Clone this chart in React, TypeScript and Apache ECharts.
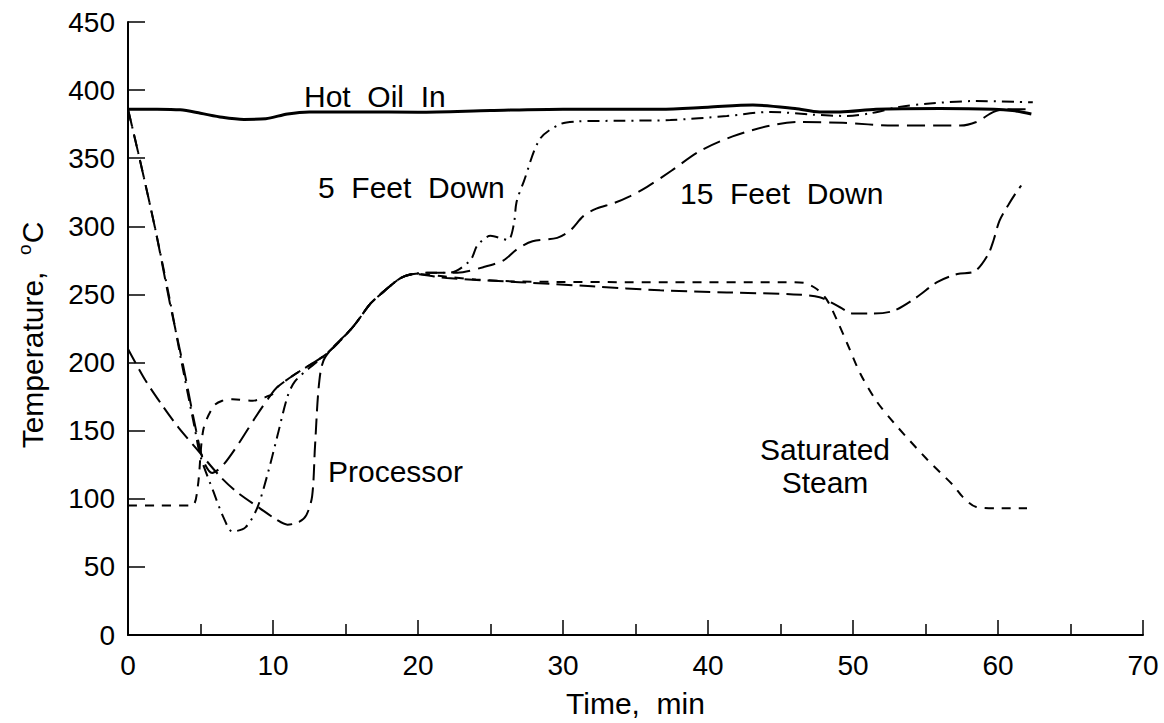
import React, { useEffect, useRef } from "react";
import * as echarts from "echarts";

// Time (min) vs temperature (°C)
const hotOilIn: number[][] = [
  [0, 386], [2, 386], [3.6, 385.5], [5, 383], [6.5, 380], [8, 378.5], [9.5, 379], [11, 382.5],
  [12.5, 384], [16, 384], [20, 383.8], [25, 385], [30, 386], [36.7, 386], [40, 387.5], [43.1, 389],
  [46, 386.5], [47.7, 384], [49.1, 384], [51.6, 386], [56, 386.5], [59.7, 386], [61, 385], [62.3, 382.5],
];

const fiveFeetDown: number[][] = [
  [0, 386], [0.9, 345], [1.9, 297], [2.9, 245], [3.7, 200], [4.6, 152], [5.0, 131], [5.9, 105],
  [6.6, 86], [7.2, 76], [8.1, 79], [8.9, 93], [9.6, 117], [10.3, 146], [11.0, 175], [11.5, 186],
  [12.5, 196], [13.7, 206.5], [15.5, 226], [16.7, 243], [17.4, 250], [18.8, 262], [19.7, 265],
  [21, 266], [22.2, 266], [23.6, 275], [24.1, 286], [25, 293], [26.2, 290], [26.6, 301], [26.8, 318],
  [27.3, 333], [28.4, 364], [29.8, 375], [31, 377], [34, 377.5], [37.4, 378], [41.3, 381], [44.3, 384],
  [47.2, 382], [49.6, 381], [51.2, 383], [53.2, 387.7], [55.1, 390], [58.5, 392], [62.4, 391],
];

const fifteenFeetDown: number[][] = [
  [0, 386], [0.9, 345], [1.9, 297], [2.9, 243], [3.8, 198], [4.7, 150], [5.2, 128], [5.8, 119],
  [6.5, 124], [7.6, 140], [8.8, 160], [9.7, 174], [10.3, 182], [11.6, 192], [13.7, 206.5],
  [15.5, 226], [16.7, 243], [17.4, 250], [18.8, 262], [19.7, 265], [21, 266], [22.7, 266],
  [24.5, 270], [25.9, 275], [26.8, 283], [27.9, 289], [29.6, 291.5], [30.5, 297], [31.4, 307.5],
  [32.3, 313], [33.5, 317], [34.6, 322], [35.8, 329], [37.5, 341], [39.4, 355], [41.7, 366],
  [44.3, 374], [46.3, 376.6], [49.3, 376], [52.8, 374], [57.4, 374], [58.5, 376.6], [59.7, 384],
  [60.5, 386], [62.3, 386],
];

const processor: number[][] = [
  [0, 210], [1.2, 187], [2.4, 168], [3.5, 152], [4.7, 137], [6.3, 117], [7.5, 105], [9.1, 93],
  [10.2, 85], [11, 81], [11.8, 83], [12.3, 88], [12.7, 102], [12.9, 139], [13.2, 187], [13.6, 204],
  [15.5, 226], [16.7, 243], [17.4, 250], [18.8, 262], [19.7, 265], [22, 262], [27, 259], [32, 256],
  [36.7, 253], [41.3, 251.5], [45.9, 250], [47.7, 248], [49.1, 240.6], [50, 236], [51.4, 236],
  [52.8, 238], [54.4, 248], [55.8, 259], [57.2, 265], [58.4, 267], [59.3, 279], [59.7, 290],
  [60.1, 304], [60.7, 315.5], [61.2, 324], [61.6, 330],
];

const saturatedSteam: number[][] = [
  [0, 95], [2, 95], [4.4, 95], [4.8, 108], [5.2, 151], [5.9, 168], [6.5, 172], [7.2, 173],
  [8.6, 172], [9.3, 174], [10, 177], [10.3, 182], [11.6, 192], [13.7, 206.5], [15.5, 226],
  [16.7, 243], [17.4, 250], [18.8, 262], [19.7, 265], [22, 263], [24, 261], [27, 259.5],
  [37.4, 259], [45.4, 259], [46.6, 258.5], [47.5, 254], [48.2, 246], [48.9, 231], [49.6, 214],
  [50.5, 192], [51.6, 172], [52.8, 156], [55.1, 129], [56.9, 110], [57.6, 101], [58.5, 94],
  [60, 93], [62, 93],
];

const xTicks = { min: 0, max: 70, interval: 10 };
const yTicks = { min: 0, max: 450, interval: 50 };

const FONT = "'Liberation Sans', Arial, Helvetica, sans-serif";

export default function App() {
  const ref = useRef<HTMLDivElement>(null);

  useEffect(() => {
    document.body.style.margin = "0";
    const chart = echarts.init(ref.current!, undefined, { renderer: "svg" });

    const line = (name: string, data: number[][], width: number, type: any) => ({
      name,
      type: "line",
      data,
      showSymbol: false,
      symbol: "none",
      smooth: 0.3,
      lineStyle: { color: "#000", width, type },
      z: 3,
    });

    const label = (text: string, x: number, y: number, align = "left") => ({
      type: "text",
      x,
      y,
      silent: true,
      style: {
        text,
        fill: "#000",
        fontSize: 30,
        fontFamily: FONT,
        align,
        verticalAlign: "middle",
      },
    });

    chart.setOption({
      animation: false,
      backgroundColor: "#fff",
      grid: { left: 128, right: 21, top: 22, bottom: 82, containLabel: false },
      xAxis: {
        type: "value",
        min: xTicks.min,
        max: xTicks.max,
        interval: xTicks.interval,
        name: "Time,  min",
        nameLocation: "middle",
        nameGap: 53,
        nameTextStyle: { color: "#000", fontSize: 30, fontFamily: FONT },
        axisLine: { show: true, onZero: false, lineStyle: { color: "#000", width: 2 } },
        axisTick: { show: true, inside: true, length: 15, lineStyle: { color: "#000", width: 1.5 } },
        minorTick: { show: true, splitNumber: 2, length: 11, lineStyle: { color: "#000", width: 1.5 } },
        axisLabel: { color: "#000", fontSize: 28, fontFamily: FONT, margin: 16 },
        splitLine: { show: false },
      },
      yAxis: {
        type: "value",
        min: yTicks.min,
        max: yTicks.max,
        interval: yTicks.interval,
        axisLine: { show: true, onZero: false, lineStyle: { color: "#000", width: 2 } },
        axisTick: { show: true, inside: true, length: 17, lineStyle: { color: "#000", width: 1.5 } },
        axisLabel: { color: "#000", fontSize: 28, fontFamily: FONT, margin: 13 },
        splitLine: { show: false },
      },
      series: [
        line("Hot Oil In", hotOilIn, 3, "solid"),
        line("5 Feet Down", fiveFeetDown, 2, [12, 6, 2, 6]),
        line("15 Feet Down", fifteenFeetDown, 2, [18, 8]),
        line("Processor", processor, 2, [16, 7]),
        line("Saturated Steam", saturatedSteam, 2, [9, 8]),
      ],
      graphic: [
        label("Hot  Oil  In", 304, 96),
        label("5  Feet  Down", 318, 187),
        label("15  Feet  Down", 680, 193),
        label("Processor", 328, 471),
        label("Saturated", 825, 449, "center"),
        label("Steam", 825, 482, "center"),
        {
          type: "text",
          x: 32,
          y: 335,
          rotation: Math.PI / 2,
          silent: true,
          style: {
            text: "Temperature,  {sup|o}C",
            fill: "#000",
            fontSize: 30,
            fontFamily: FONT,
            align: "center",
            verticalAlign: "middle",
            rich: {
              sup: { fontSize: 19, fontFamily: FONT, fill: "#000", verticalAlign: "top", padding: [0, 1, 16, 0] },
            },
          },
        },
      ],
    });

    return () => chart.dispose();
  }, []);

  return (
    <div
      ref={ref}
      style={{ position: "absolute", left: 0, top: 0, width: 1164, height: 723 }}
    />
  );
}
